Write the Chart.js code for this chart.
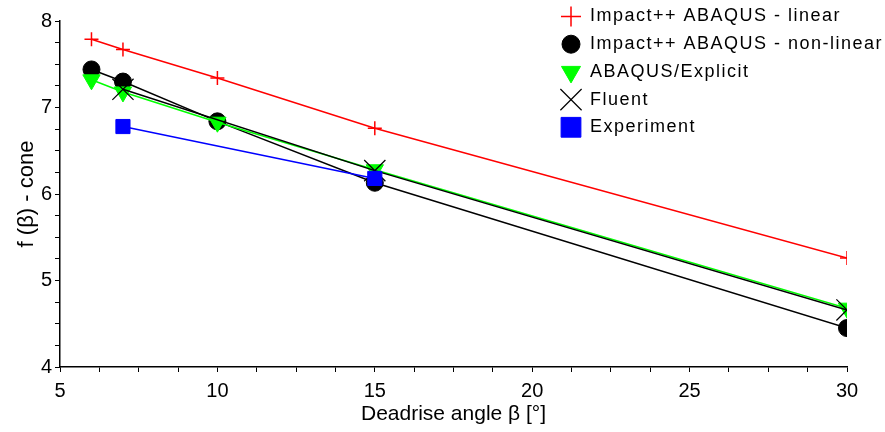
<!DOCTYPE html>
<html>
<head>
<meta charset="utf-8">
<script src="https://cdn.jsdelivr.net/npm/chart.js@4.4.0/dist/chart.umd.min.js"></script>
<style>
    html, body { margin: 0; padding: 0; background: #fff; }
    #wrap { width: 885px; height: 432px; }
</style>
</head>
<body>
<div id="wrap"><canvas id="chart" width="885" height="432"></canvas></div>
<script>
// values
const seriesLabels = [
    "Impact++ ABAQUS - linear",
    "Impact++ ABAQUS - non-linear",
    "ABAQUS/Explicit",
    "Fluent",
    "Experiment",
];
const linearAngle = [6, 7, 10, 15, 30];
const linearF = [7.79, 7.67, 7.34, 6.76, 5.26];
const nonlinearAngle = [6, 7, 10, 15, 30];
const nonlinearF = [7.44, 7.3, 6.84, 6.13, 4.45];
const explicitAngle = [6, 7, 10, 15, 30];
const explicitF = [7.32, 7.18, 6.83, 6.28, 4.68];
const fluentAngle = [7, 15, 30];
const fluentF = [7.21, 6.27, 4.66];
const experimentAngle = [7, 15];
const experimentF = [6.78, 6.18];
const xTickLabels = [5, 10, 15, 20, 25, 30];
const yTickLabels = [4, 5, 6, 7, 8];

function toPoints(xs, ys) {
    return xs.map((x, i) => ({ x: x, y: ys[i] }));
}

Chart.defaults.font.family = '"Liberation Sans", Arial, sans-serif';
Chart.defaults.color = "#000";

// legend drawn in the top right corner, like the original
const cornerLegend = {
    id: "cornerLegend",
    afterDraw(chart) {
        const ctx = chart.ctx;
        const sizes = [10, 9, 11, 15, 14];
        ctx.save();
        ctx.font = '18px "Liberation Sans", Arial, sans-serif';
        ctx.letterSpacing = "1.5px";
        ctx.textBaseline = "middle";
        chart.data.datasets.forEach((ds, i) => {
            const y = 16.5 + i * 27.7;
            ctx.save();
            ctx.strokeStyle = ds.pointBorderColor;
            ctx.fillStyle = ds.pointBackgroundColor;
            ctx.lineWidth = ds.pointBorderWidth;
            Chart.helpers.drawPoint(
                ctx,
                {
                    pointStyle: ds.pointStyle,
                    rotation: ds.pointRotation || 0,
                    radius: sizes[i],
                    borderWidth: ds.pointBorderWidth,
                },
                571,
                y
            );
            ctx.restore();
            ctx.fillStyle = "#000";
            ctx.fillText(ds.label, 590, y);
        });
        ctx.restore();
    },
};

const ctx = document.getElementById("chart").getContext("2d");
new Chart(ctx, {
    type: "scatter",
    data: {
        datasets: [
            {
                label: seriesLabels[0],
                data: toPoints(linearAngle, linearF),
                showLine: true,
                borderColor: "#ff0000",
                borderWidth: 1.5,
                pointStyle: "cross",
                pointRadius: 7,
                pointBorderColor: "#ff0000",
                pointBackgroundColor: "#ff0000",
                pointBorderWidth: 1.5,
                order: 4,
            },
            {
                label: seriesLabels[1],
                data: toPoints(nonlinearAngle, nonlinearF),
                showLine: true,
                borderColor: "#000000",
                borderWidth: 1.5,
                pointStyle: "circle",
                pointRadius: 8.5,
                pointBorderColor: "#000000",
                pointBackgroundColor: "#000000",
                pointBorderWidth: 1,
                order: 3,
            },
            {
                label: seriesLabels[2],
                data: toPoints(explicitAngle, explicitF),
                showLine: true,
                borderColor: "#00ff00",
                borderWidth: 1.5,
                pointStyle: "triangle",
                pointRotation: 180,
                pointRadius: 10,
                pointBorderColor: "#00ff00",
                pointBackgroundColor: "#00ff00",
                pointBorderWidth: 1,
                order: 2,
            },
            {
                label: seriesLabels[3],
                data: toPoints(fluentAngle, fluentF),
                showLine: true,
                borderColor: "#000000",
                borderWidth: 1.5,
                pointStyle: "crossRot",
                pointRadius: 15,
                pointBorderColor: "#000000",
                pointBackgroundColor: "#000000",
                pointBorderWidth: 1.2,
                order: 1,
            },
            {
                label: seriesLabels[4],
                data: toPoints(experimentAngle, experimentF),
                showLine: true,
                borderColor: "#0000ff",
                borderWidth: 1.5,
                pointStyle: "rect",
                pointRadius: 10,
                pointBorderColor: "#0000ff",
                pointBackgroundColor: "#0000ff",
                pointBorderWidth: 1,
                order: 0,
            },
        ],
    },
    options: {
        responsive: false,
        animation: false,
        events: [],
        layout: { padding: { top: 21, right: 38, left: 0, bottom: 0 } },
        plugins: {
            legend: { display: false },
            tooltip: { enabled: false },
        },
        scales: {
            x: {
                type: "linear",
                min: 5,
                max: 30,
                afterFit: (scale) => {
                    scale.height = 65;
                },
                border: { color: "#000", width: 1.5 },
                grid: {
                    drawOnChartArea: false,
                    color: "#000",
                    tickColor: "#000",
                    tickLength: 5,
                },
                ticks: {
                    stepSize: 1.25,
                    autoSkip: false,
                    maxRotation: 0,
                    padding: 7,
                    font: { size: 20 },
                    callback: (v) => (xTickLabels.includes(v) ? v : ""),
                },
                title: {
                    display: true,
                    text: "Deadrise angle β [°]",
                    font: { size: 21 },
                    padding: { top: 0, bottom: 5 },
                },
            },
            y: {
                type: "linear",
                min: 4,
                max: 8,
                afterFit: (scale) => {
                    scale.width = 60;
                },
                border: { color: "#000", width: 1.5 },
                grid: {
                    drawOnChartArea: false,
                    color: "#000",
                    tickColor: "#000",
                    tickLength: 5,
                },
                ticks: {
                    stepSize: 0.25,
                    autoSkip: false,
                    padding: 3,
                    font: { size: 20 },
                    callback: (v) => (yTickLabels.includes(v) ? v : ""),
                },
                title: {
                    display: true,
                    text: "f (β) - cone",
                    font: { size: 22 },
                    padding: { top: 14, bottom: 0 },
                },
            },
        },
    },
    plugins: [cornerLegend],
});
</script>
</body>
</html>
